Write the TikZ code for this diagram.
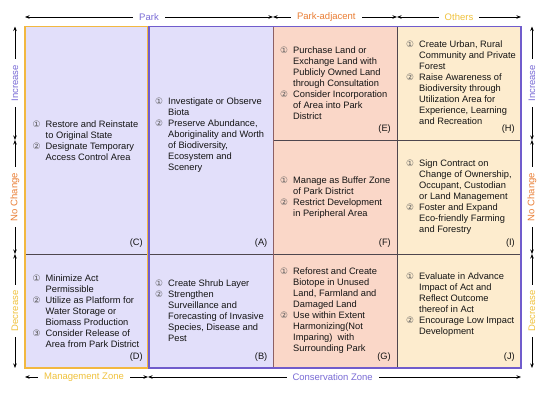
\documentclass[tikz,border=0pt]{standalone}
\usepackage{fontspec}
\setmainfont{Liberation Sans}
\newfontfamily\circfont{DejaVu Sans}
\usetikzlibrary{arrows.meta}

\definecolor{lavfill}{RGB}{226,223,250}
\definecolor{peachfill}{RGB}{250,215,200}
\definecolor{creamfill}{RGB}{253,236,206}
\definecolor{zonepurple}{RGB}{112,92,204}
\definecolor{zoneorange}{RGB}{242,184,64}
\definecolor{txtpurple}{RGB}{122,108,214}
\definecolor{txtorange}{RGB}{234,126,52}
\definecolor{txtyellow}{RGB}{240,194,60}
\definecolor{gridgray}{RGB}{78,70,78}
\definecolor{gridbrown}{RGB}{140,96,100}

\newcommand{\cn}[1]{\makebox[13pt][l]{\textcolor{black!65}{\circfont\fontsize{8.8}{9}\selectfont #1}}}
\newcommand{\hang}{\hspace*{13pt}}

\begin{document}
\begin{tikzpicture}[x=1pt,y=-1pt,
  celltext/.style={anchor=west,align=left,inner sep=0pt,text=black!92,font=\fontsize{9.3}{11}\selectfont},
  celltag/.style={anchor=east,inner sep=0pt,text=black!92,font=\fontsize{9.3}{11}\selectfont},
  gridline/.style={draw=gridgray,line width=0.9pt},
  dimarrow/.style={{Stealth[length=4.5pt,width=3.5pt]}-{Stealth[length=4.5pt,width=3.5pt]},line width=0.7pt},
  dimlabel/.style={fill=white,inner xsep=6pt,inner ysep=1pt,font=\fontsize{9.5}{11}\selectfont}]
\useasboundingbox (0,0) rectangle (550,394);

% cell fills
\fill[lavfill] (25,26.5) rectangle (273,368);
\fill[peachfill] (273,26.5) rectangle (397,368);
\fill[creamfill] (397,26.5) rectangle (521,368);

% inner lines
\draw[gridline] (25,254) -- (273,254);
\draw[gridline] (273,140) -- (521,140);
\draw[gridline] (273,254) -- (521,254);
\draw[gridline] (397,26.5) -- (397,368);
\draw[draw=gridbrown,line width=1pt] (273,26.5) -- (273,368);

% zone borders
\draw[zoneorange,line width=1.6pt] (25,26.5) rectangle (147.3,368);
\draw[zonepurple,line width=1.6pt] (148.7,26.5) rectangle (521,368);

% cell texts
\node[celltext] (C) at (32.5,140.5) {\cn{①}Restore and Reinstate\\\hang to Original State\\\cn{②}Designate Temporary\\\hang Access Control Area};
\node[celltext] (A) at (155,135) {\cn{①}Investigate or Observe\\\hang Biota\\\cn{②}Preserve Abundance,\\\hang Aboriginality and Worth\\\hang of Biodiversity,\\\hang Ecosystem and\\\hang Scenery};
\node[celltext] (E) at (280,83.5) {\cn{①}Purchase Land or\\\hang Exchange Land with\\\hang Publicly Owned Land\\\hang through Consultation\\\cn{②}Consider Incorporation\\\hang of Area into Park\\\hang District};
\node[celltext] (H) at (406,83) {\cn{①}Create Urban, Rural\\\hang Community and Private\\\hang Forest\\\cn{②}Raise Awareness of\\\hang Biodiversity through\\\hang Utilization Area for\\\hang Experience, Learning\\\hang and Recreation};
\node[celltext] (F) at (280,197.5) {\cn{①}Manage as Buffer Zone\\\hang of Park District\\\cn{②}Restrict Development\\\hang in Peripheral Area};
\node[celltext] (I) at (406,197.5) {\cn{①}Sign Contract on\\\hang Change of Ownership,\\\hang Occupant, Custodian\\\hang or Land Management\\\cn{②}Foster and Expand\\\hang Eco-friendly Farming\\\hang and Forestry};
\node[celltext] (D) at (32.5,311) {\cn{①}Minimize Act\\\hang Permissible\\\cn{②}Utilize as Platform for\\\hang Water Storage or\\\hang Biomass Production\\\cn{③}Consider Release of\\\hang Area from Park District};
\node[celltext] (B) at (155,311) {\cn{①}Create Shrub Layer\\\cn{②}Strengthen\\\hang Surveillance and\\\hang Forecasting of Invasive\\\hang Species, Disease and\\\hang Pest};
\node[celltext] (G) at (280,311) {\cn{①}Reforest and Create\\\hang Biotope in Unused\\\hang Land, Farmland and\\\hang Damaged Land\\\cn{②}Use within Extent\\\hang Harmonizing(Not\\\hang Imparing)\ \ with\\\hang Surrounding Park};
\node[celltext] (J) at (406,305) {\cn{①}Evaluate in Advance\\\hang Impact of Act and\\\hang Reflect Outcome\\\hang thereof in Act\\\cn{②}Encourage Low Impact\\\hang Development};

% cell tags
\node[celltag] (tagC) at (143,243.5) {(C)};
\node[celltag] (tagA) at (267.5,243.5) {(A)};
\node[celltag] (tagE) at (391,129.5) {(E)};
\node[celltag] (tagH) at (515,129.5) {(H)};
\node[celltag] (tagF) at (391,243.5) {(F)};
\node[celltag] (tagI) at (515,243.5) {(I)};
\node[celltag] (tagD) at (143,357.5) {(D)};
\node[celltag] (tagB) at (267.5,357.5) {(B)};
\node[celltag] (tagG) at (391,357.5) {(G)};
\node[celltag] (tagJ) at (515,357.5) {(J)};

% top dimension arrows
\coordinate (pk-l) at (25,17);
\coordinate (pk-r) at (273,17);
\coordinate (adj-r) at (397,17);
\coordinate (oth-r) at (521,17);
\draw[dimarrow] (pk-l) -- (pk-r) node[dimlabel,midway,text=txtpurple] (park) {Park};
\draw[dimarrow] (pk-r) -- (adj-r) node[dimlabel,pos=0.43,text=txtorange] (adj) {Park-adjacent};
\draw[dimarrow] (adj-r) -- (oth-r) node[dimlabel,midway,text=txtyellow] (oth) {Others};

% bottom dimension arrows
\coordinate (mz-l) at (25,377);
\coordinate (mz-r) at (148,377);
\coordinate (cz-r) at (521,377);
\draw[dimarrow] (mz-l) -- (mz-r) node[dimlabel,pos=0.48,text=txtyellow] (mz) {Management Zone};
\draw[dimarrow] (mz-r) -- (cz-r) node[dimlabel,pos=0.495,text=txtpurple] (cz) {Conservation Zone};

% left dimension arrows
\coordinate (lf-0) at (15,26.5);
\coordinate (lf-1) at (15,140);
\coordinate (lf-2) at (15,254);
\coordinate (lf-3) at (15,368);
\draw[dimarrow] (lf-0) -- (lf-1) node[dimlabel,midway,rotate=90,text=txtpurple] (lf-inc) {Increase};
\draw[dimarrow] (lf-1) -- (lf-2) node[dimlabel,midway,rotate=90,text=txtorange] (lf-noc) {No Change};
\draw[dimarrow] (lf-2) -- (lf-3) node[dimlabel,midway,rotate=90,text=txtyellow] (lf-dec) {Decrease};

% right dimension arrows
\coordinate (rt-0) at (532,26.5);
\coordinate (rt-1) at (532,140);
\coordinate (rt-2) at (532,254);
\coordinate (rt-3) at (532,368);
\draw[dimarrow] (rt-0) -- (rt-1) node[dimlabel,midway,rotate=90,text=txtpurple] (rt-inc) {Increase};
\draw[dimarrow] (rt-1) -- (rt-2) node[dimlabel,midway,rotate=90,text=txtorange] (rt-noc) {No Change};
\draw[dimarrow] (rt-2) -- (rt-3) node[dimlabel,midway,rotate=90,text=txtyellow] (rt-dec) {Decrease};
\end{tikzpicture}
\end{document}
